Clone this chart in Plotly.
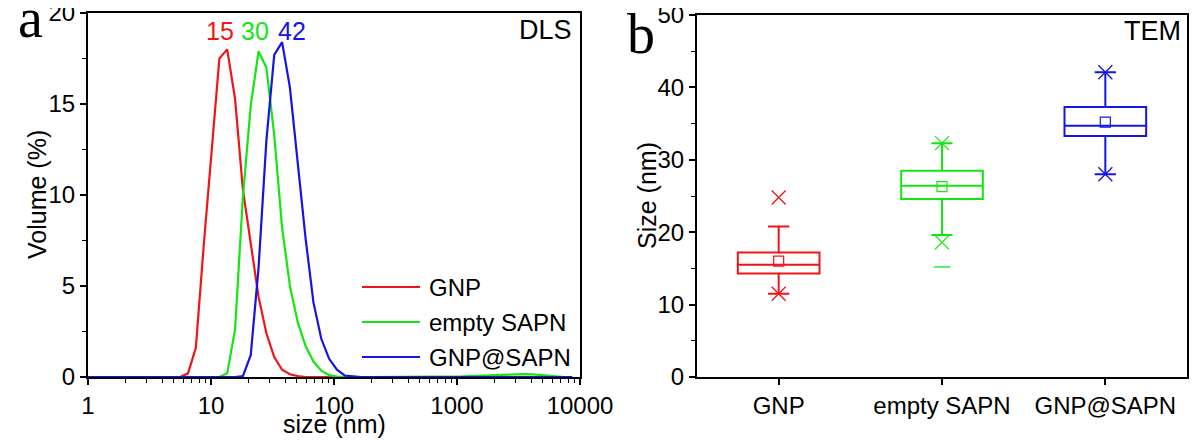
import plotly.graph_objects as go

# ---------------- data ----------------
# DLS size bins (nm)
bins_nm = [0.4, 0.4632, 0.5365, 0.6213, 0.7195, 0.8332, 0.9649, 1.117, 1.294, 1.499,
           1.736, 2.010, 2.328, 2.696, 3.122, 3.615, 4.187, 4.849, 5.615, 6.503,
           7.531, 8.721, 10.10, 11.70, 13.54, 15.69, 18.17, 21.04, 24.36, 28.21,
           32.67, 37.84, 43.82, 50.75, 58.77, 68.06, 78.82, 91.28, 105.7, 122.4,
           141.8, 164.2, 190.1, 220.2, 255.0, 295.3, 342.0, 396.1, 458.7, 531.2,
           615.1, 712.4, 825.0, 955.4, 1106, 1281, 1484, 1718, 1990, 2305,
           2669, 3091, 3580, 4145, 4801, 5560, 6439, 7456, 8635]

vol_gnp = [0, 0, 0, 0, 0, 0, 0, 0, 0, 0,
           0, 0, 0, 0, 0, 0, 0, 0, 0, 0.2,
           1.6, 7.2, 12.2, 17.5, 18.0, 15.3, 10.3, 7.3, 4.4, 2.4,
           1.1, 0.4, 0.15, 0.05, 0, 0, 0, 0, 0, 0,
           0, 0, 0, 0, 0, 0, 0, 0, 0, 0,
           0, 0, 0, 0, 0, 0, 0, 0, 0, 0,
           0, 0, 0, 0, 0, 0, 0, 0, 0]

vol_empty_sapn = [0, 0, 0, 0, 0, 0, 0, 0, 0, 0,
                  0, 0, 0, 0, 0, 0, 0, 0, 0, 0,
                  0, 0, 0, 0, 0.2, 2.6, 9.9, 14.9, 17.9, 17.0,
                  13.3, 8.2, 5.0, 3.0, 1.7, 0.85, 0.35, 0.1, 0.02, 0,
                  0, 0, 0, 0, 0, 0, 0, 0, 0, 0,
                  0, 0, 0, 0.01, 0.03, 0.05, 0.07, 0.09, 0.11, 0.13,
                  0.15, 0.16, 0.16, 0.14, 0.1, 0.06, 0.02, 0, 0]

vol_gnp_sapn = [0, 0, 0, 0, 0, 0, 0, 0, 0, 0,
                0, 0, 0, 0, 0, 0, 0, 0, 0, 0,
                0, 0, 0, 0, 0, 0, 0.05, 1.2, 6.0, 13.0,
                17.7, 18.4, 15.9, 11.6, 7.6, 4.1, 2.1, 1.0, 0.4, 0.08,
                0.02, 0, 0, 0, 0, 0, 0, 0, 0, 0,
                0, 0, 0, 0, 0, 0.01, 0.02, 0.03, 0.03, 0.03,
                0.03, 0.03, 0.02, 0.02, 0.01, 0, 0, 0, 0]

series_names = ["GNP", "empty SAPN", "GNP@SAPN"]
peak_labels = ["15", "30", "42"]

dls_xticks = [1, 10, 100, 1000, 10000]
dls_xticktext = ["1", "10", "100", "1000", "10000"]
dls_yticks = [0, 5, 10, 15, 20]

# TEM box statistics (nm)
categories = ["GNP", "empty SAPN", "GNP@SAPN"]
q1 = [14.3, 24.6, 33.3]
median = [15.5, 26.4, 34.7]
q3 = [17.2, 28.5, 37.3]
whisker_low = [11.5, 19.6, 28.0]
whisker_high = [20.8, 32.3, 42.1]
mean = [16.0, 26.3, 35.2]
pct_low = [11.5, 18.6, 28.0]     # 1 % marks (x)
pct_high = [24.8, 32.3, 42.1]    # 99 % marks (x)
min_marks = [[], [15.2], []]     # min/max marks (-)
tem_yticks = [0, 10, 20, 30, 40, 50]

# ---------------- style ----------------
OFF = 8                      # page body margin of the browser
W, H = 1200 - OFF, 440 - OFF
colors = ["#f01414", "#14e614", "#1414e6"]
FONT = "Liberation Sans, Arial, sans-serif"
SERIF = "Liberation Serif, Times New Roman, serif"


def px_x(p):
    return (p - OFF) / W


def px_y(p):
    return 1 - (p - OFF) / H


fig = go.Figure()

dls = [vol_gnp, vol_empty_sapn, vol_gnp_sapn]
for name, vals, c in zip(series_names, dls, colors):
    fig.add_trace(go.Scatter(x=bins_nm, y=vals, mode="lines", name=name,
                             line=dict(color=c, width=2.2), showlegend=False,
                             xaxis="x", yaxis="y"))

for i, cat in enumerate(categories):
    c = colors[i]
    fig.add_trace(go.Box(x=[cat], q1=[q1[i]], median=[median[i]], q3=[q3[i]],
                         lowerfence=[whisker_low[i]], upperfence=[whisker_high[i]],
                         boxpoints=False, width=0.5, whiskerwidth=0.26,
                         line=dict(color=c, width=2), fillcolor="rgba(0,0,0,0)",
                         name=cat, showlegend=False, xaxis="x2", yaxis="y2"))
    fig.add_trace(go.Scatter(x=[cat], y=[mean[i]], mode="markers", showlegend=False,
                             marker=dict(symbol="square-open", size=10, color=c,
                                         line=dict(width=1.2, color=c)),
                             xaxis="x2", yaxis="y2"))
    fig.add_trace(go.Scatter(x=[cat, cat], y=[pct_low[i], pct_high[i]], mode="markers",
                             showlegend=False,
                             marker=dict(symbol="x-thin-open", size=14, color=c,
                                         line=dict(width=1.3, color=c)),
                             xaxis="x2", yaxis="y2"))
    if min_marks[i]:
        fig.add_trace(go.Scatter(x=[cat] * len(min_marks[i]), y=min_marks[i], mode="markers",
                                 showlegend=False,
                                 marker=dict(symbol="line-ew-open", size=12, color=c,
                                             line=dict(width=1.3, color=c)),
                                 xaxis="x2", yaxis="y2"))

# ---------------- layout ----------------
xa1 = [88, 580]
ya1 = [13, 377]
xa2 = [697, 1187]
ya2 = [15, 377]

axis_common = dict(showgrid=False, zeroline=False, showline=True, linecolor="black",
                   linewidth=2, mirror=True, ticks="outside", ticklen=6, tickwidth=1.5,
                   tickcolor="black", automargin=False, ticklabeloverflow="allow",
                   tickfont=dict(family=FONT, size=24, color="black"))

minor_log = [d * 10 ** k for k in range(0, 4) for d in range(2, 10)]

fig.update_layout(
    width=W, height=H, margin=dict(l=0, r=0, t=0, b=0, pad=0), autosize=False,
    paper_bgcolor="white", plot_bgcolor="white",
    xaxis=dict(domain=[px_x(xa1[0]), px_x(xa1[1])], type="log", range=[0, 4],
               tickvals=dls_xticks, ticktext=dls_xticktext, anchor="y",
               minor=dict(tickvals=minor_log, ticks="outside", ticklen=4, tickwidth=1.2,
                          tickcolor="black", showgrid=False),
               **axis_common),
    yaxis=dict(domain=[px_y(ya1[1]), px_y(ya1[0])], range=[0, 20], tickvals=dls_yticks,
               anchor="x",
               minor=dict(dtick=2.5, ticks="outside", ticklen=4, tickwidth=1.2,
                          tickcolor="black", showgrid=False),
               **axis_common),
    xaxis2=dict(domain=[px_x(xa2[0]), px_x(xa2[1])], type="category", range=[-0.5, 2.5],
                categoryorder="array", categoryarray=categories, anchor="y2",
                **axis_common),
    yaxis2=dict(domain=[px_y(ya2[1]), px_y(ya2[0])], range=[0, 50], tickvals=tem_yticks,
                anchor="x2",
                minor=dict(dtick=5, ticks="outside", ticklen=4, tickwidth=1.2,
                           tickcolor="black", showgrid=False),
                **axis_common),
)

ann = []
# panel letters
ann.append(dict(text="a", x=px_x(30), y=px_y(51), xanchor="center", yanchor="bottom",
                font=dict(family=SERIF, size=56, color="black")))
ann.append(dict(text="b", x=px_x(641), y=px_y(67), xanchor="center", yanchor="bottom",
                font=dict(family=SERIF, size=56, color="black")))
# corner labels
ann.append(dict(text="DLS", x=px_x(574), y=px_y(30), xanchor="right", yanchor="middle",
                font=dict(family=FONT, size=27, color="black")))
ann.append(dict(text="TEM", x=px_x(1183), y=px_y(31), xanchor="right", yanchor="middle",
                font=dict(family=FONT, size=27, color="black")))
# peak labels
for lbl, c, xc in zip(peak_labels, colors, [220, 255, 292]):
    ann.append(dict(text=lbl, x=px_x(xc), y=px_y(31), xanchor="center", yanchor="middle",
                    font=dict(family=FONT, size=25, color=c)))
# axis titles
ann.append(dict(text="Volume (%)", x=px_x(37), y=px_y(195), textangle=-90,
                xanchor="center", yanchor="middle",
                font=dict(family=FONT, size=25, color="black")))
ann.append(dict(text="size (nm)", x=px_x(334), y=px_y(424), xanchor="center",
                yanchor="middle", font=dict(family=FONT, size=25, color="black")))
ann.append(dict(text="Size (nm)", x=px_x(647), y=px_y(196), textangle=-90,
                xanchor="center", yanchor="middle",
                font=dict(family=FONT, size=25, color="black")))

# legend (drawn inside panel a)
shapes = []
for k, (name, c) in enumerate(zip(series_names, colors)):
    yy = px_y(287 + 35 * k)
    shapes.append(dict(type="line", xref="paper", yref="paper", x0=px_x(362), x1=px_x(420),
                       y0=yy, y1=yy, line=dict(color=c, width=2.2)))
    ann.append(dict(text=name, x=px_x(427), y=yy, xanchor="left", yanchor="middle",
                    font=dict(family=FONT, size=24, color="black")))

for a in ann:
    a.update(xref="paper", yref="paper", showarrow=False)

fig.update_layout(annotations=ann, shapes=shapes)

fig.write_html("out.html")
